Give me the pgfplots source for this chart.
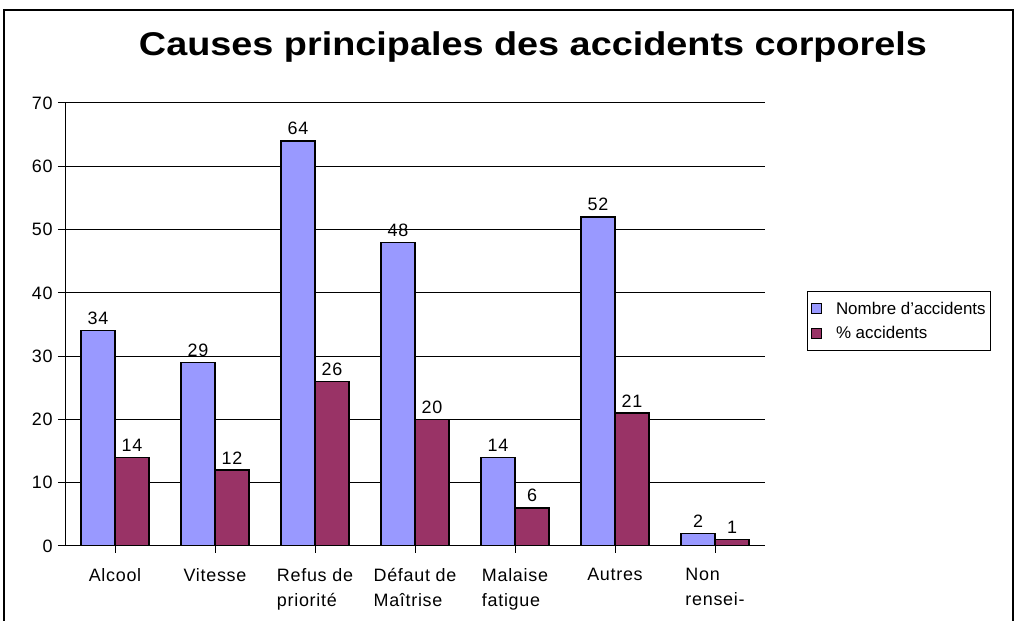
\documentclass[border=0pt]{standalone}
\usepackage{pgfplots}
\pgfplotsset{compat=1.18}
\usepackage{fontspec}
\setmainfont{Liberation Sans}
\definecolor{cblue}{HTML}{9999FF}
\definecolor{cmar}{HTML}{993366}
\newcommand{\lbl}{\fontsize{18}{25}\selectfont\addfontfeature{LetterSpace=4}}
\begin{document}
\begin{tikzpicture}[x=1bp,y=1bp]
\path[use as bounding box] (0,0) rectangle (1016,621);
\draw[line width=1.5bp] (4,-2) -- (4,611) -- (1013,611) -- (1013,-2);
\node[font=\bfseries\fontsize{33}{38}\selectfont, xscale=1.15] at (533,574) {Causes principales des accidents corporels};
\begin{axis}[
  at={(65bp,75bp)}, anchor=south west,
  scale only axis, width=700bp, height=443bp,
  ybar=0pt, bar width=34bp,
  xmin=-0.5, xmax=6.5, ymin=0, ymax=70,
  axis lines*=left,
  axis line style={black, line width=1bp},
  xtick={0,1,2,3,4,5,6},
  xticklabels={Alcool, Vitesse, {Refus de\\priorité}, {Défaut de\\Maîtrise}, {Malaise\\fatigue}, Autres, {Non\\rensei-}},
  xticklabel style={align=left, font=\lbl, yshift=-12bp},
  ytick={0,10,...,70},
  yticklabel style={font=\lbl, xshift=-2bp},
  /pgf/number format/assume math mode=true,
  tick align=outside, major tick length=7bp,
  tick style={black, line width=1bp},
  ymajorgrids, major grid style={black, line width=1bp},
  nodes near coords,
  nodes near coords style={font=\lbl, black, yshift=2bp},
  legend style={at={(1.06,0.575)}, anchor=north west, draw=black, line width=1bp,
    font=\fontsize{17}{18}\selectfont, cells={anchor=west}, row sep=7bp, inner xsep=3bp, inner ysep=8bp},
  legend image code/.code={\draw[#1, draw=black, line width=1bp] (0bp,-5bp) rectangle (10bp,5bp);
    \path[draw=none, fill=none] (0bp,0bp) rectangle (23bp,0.1bp);},
]
\addplot[fill=cblue, draw=black, line width=1.2bp] coordinates {(0,34) (1,29) (2,64) (3,48) (4,14) (5,52) (6,2)};
\addplot[fill=cmar, draw=black, line width=1.2bp] coordinates {(0,14) (1,12) (2,26) (3,20) (4,6) (5,21) (6,1)};
\legend{Nombre d'accidents, \% accidents}
\end{axis}
\end{tikzpicture}
\end{document}
